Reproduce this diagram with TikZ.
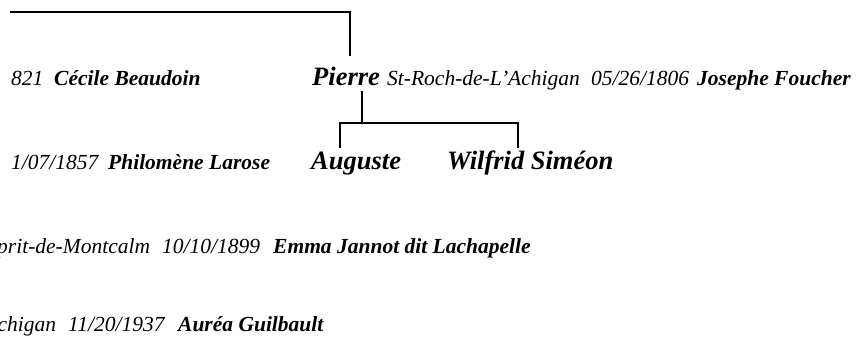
\documentclass[tikz,border=0pt]{standalone}
\usepackage{fontspec}
\setmainfont{Liberation Serif}
\begin{document}
\begin{tikzpicture}[x=1pt,y=-1pt,
  sm/.style={anchor=base west,inner sep=0pt,font=\fontsize{21.5}{25}\selectfont\itshape},
  smb/.style={sm,font=\fontsize{21.5}{25}\selectfont\bfseries\itshape},
  big/.style={anchor=base west,inner sep=0pt,font=\fontsize{26.5}{30}\selectfont\bfseries\itshape},
  link/.style={line width=2.6pt,line cap=rect}]
\useasboundingbox (0,0) rectangle (857,344);
\clip (0,0) rectangle (857,344);
% row 1
\node[sm]  (r1d) at (11,86) {821};
\node[smb] (r1n) at (54,86) {Cécile Beaudoin};
\node[big] (pierre) at (312,86) {Pierre};
\node[sm]  (r1p) at (387,86) {St-Roch-de-L’Achigan};
\node[sm]  (r1e) at (591,86) {05/26/1806};
\node[smb] (r1s) at (697,86) {Josephe Foucher};
% row 2
\node[sm]  (r2d) at (11,170) {1/07/1857};
\node[smb] (r2n) at (108,170) {Philomène Larose};
\node[big] (auguste) at (311,170) {Auguste};
\node[big] (wilfrid) at (447,170) {Wilfrid Siméon};
% row 3
\node[sm]  (r3p) at (-3,254) {prit-de-Montcalm};
\node[sm]  (r3d) at (162,254) {10/10/1899};
\node[smb] (r3n) at (273,254) {Emma Jannot dit Lachapelle};
% row 4
\node[sm]  (r4p) at (-2.5,332) {chigan};
\node[sm]  (r4d) at (68,332) {11/20/1937};
\node[smb] (r4n) at (178,332) {Auréa Guilbault};
% connectors
\coordinate (topL) at (11,12);
\coordinate (pTop) at (350,55);
\coordinate (pStem) at (362,92);
\coordinate (barM) at (362,123);
\coordinate (barR) at (518,123);
\coordinate (augTop) at (340,147);
\coordinate (wilTop) at (518,147);
\draw[link] (topL) -| (pTop);
\draw[link] (pStem) -- (barM);
\draw[link] (augTop) |- (barR) -- (wilTop);
\end{tikzpicture}
\end{document}
